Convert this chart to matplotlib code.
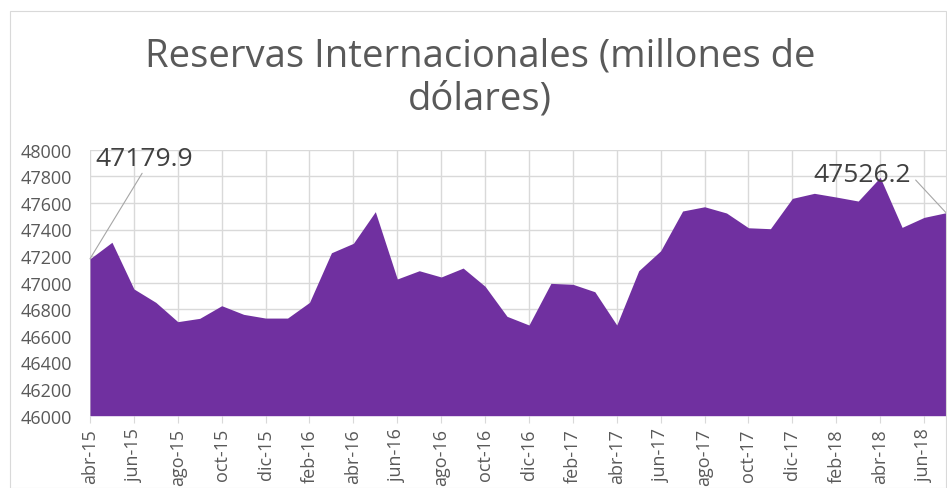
import numpy as np
import matplotlib
matplotlib.use("Agg")
import matplotlib.pyplot as plt
from matplotlib.patches import Rectangle

# month labels, abr-15 .. jul-18
meses = ['ene', 'feb', 'mar', 'abr', 'may', 'jun', 'jul', 'ago', 'sep', 'oct', 'nov', 'dic']
fechas = []
for k in range(40):
    m = (3 + k) % 12
    y = 15 + (3 + k) // 12
    fechas.append(f'{meses[m]}-{y}')

reservas = [47179.9, 47304, 46953, 46852, 46707, 46732, 46827, 46762, 46734, 46734,
            46852, 47225, 47296, 47534, 47028, 47090, 47043, 47110, 46973, 46747,
            46682, 46995, 46988, 46932, 46682, 47090, 47240, 47539, 47571, 47524,
            47413, 47406, 47634, 47672, 47644, 47614, 47792, 47416, 47491, 47526.2]

plt.rcParams['font.family'] = ['Open Sans', 'DejaVu Sans']
gris = '#595959'

fig = plt.figure(figsize=(9.47, 4.89), dpi=100)
fig.patches.append(Rectangle((10 / 947, 0), 1 - 10 / 947 - 0.001, 1 - 12 / 489,
                             transform=fig.transFigure, fill=False,
                             edgecolor='#D9D9D9', linewidth=0.8))

ax = fig.add_axes([90 / 947, 1 - 416.7 / 489, 856 / 947, 266 / 489])
x = np.arange(len(reservas))
ax.fill_between(x, reservas, 46000, color='#7030A0', linewidth=0, zorder=2)

ax.set_xlim(0, len(reservas) - 1)
ax.set_ylim(46000, 48000)
ax.set_yticks(np.arange(46000, 48001, 200))
ax.set_xticks(x[::2])
ax.set_xticklabels(fechas[::2], rotation=90)
ax.grid(True, color='#D9D9D9', linewidth=1, zorder=0)
ax.set_axisbelow(True)
for s in ax.spines.values():
    s.set_visible(False)
ax.tick_params(axis='y', length=0, labelsize=13, labelcolor=gris, pad=13)
ax.tick_params(axis='x', length=5, color='#D9D9D9', labelsize=13, labelcolor=gris, pad=4)

# data labels with leader lines
ax.annotate('47179.9', xy=(0, reservas[0]), xytext=(95 / 947, 1 - 159 / 489),
            textcoords='figure fraction', fontsize=19, color='#404040',
            ha='left', va='center',
            arrowprops=dict(arrowstyle='-', color='#A6A6A6', lw=0.8,
                            shrinkA=0, shrinkB=0, relpos=(0.5, 0)))
ax.annotate('47526.2', xy=(len(reservas) - 1, reservas[-1]), xytext=(911 / 947, 1 - 176 / 489),
            textcoords='figure fraction', fontsize=19, color='#404040',
            ha='right', va='center',
            arrowprops=dict(arrowstyle='-', color='#A6A6A6', lw=0.8,
                            shrinkA=2, shrinkB=0, relpos=(1, 0.5)))

fig.text(0.507, 1 - 78 / 489, 'Reservas Internacionales (millones de\ndólares)',
         ha='center', va='center', fontsize=27.5, color=gris, linespacing=1.18)

fig.savefig('out.png', dpi=100)
